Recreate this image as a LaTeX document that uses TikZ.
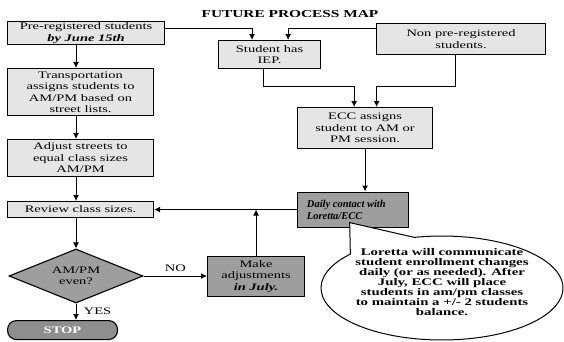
\documentclass[tikz,border=0pt]{standalone}
\usepackage{fontspec}
\setmainfont{Liberation Serif}[FakeStretch=1.45]
\newfontfamily\narrowserif{Liberation Serif}
\usetikzlibrary{shapes.geometric,shapes.callouts,arrows.meta,calc}

\definecolor{lightfill}{gray}{0.90}
\definecolor{darkfill}{gray}{0.62}

\tikzset{
  box/.style={draw, line width=1.1pt, fill=lightfill, align=center, inner sep=1pt,
    anchor=north west, font=\fontsize{10}{11.5}\selectfont},
  darkbox/.style={box, fill=darkfill},
  arr/.style={line width=1pt, -{Latex[length=6pt,width=6pt]}},
  lbl/.style={font=\fontsize{10}{11.5}\selectfont}
}

\begin{document}
\begin{tikzpicture}[x=1pt,y=-1pt]
\useasboundingbox (0,0) rectangle (564,341);

% title
\node[font=\fontsize{10.6}{12}\selectfont\bfseries] (title) at (290,14) {FUTURE PROCESS MAP};

% left column
\node[box, minimum width=157, minimum height=23] (pre) at (7,21)
  {Pre-registered students\\\textbf{\textit{by June 15th}}};
\node[box, minimum width=146, minimum height=47] (trans) at (7,68)
  {Transportation\\assigns students to\\AM/PM based on\\street lists.};
\node[box, minimum width=146, minimum height=37] (adjust) at (7,139)
  {Adjust streets to\\equal class sizes\\AM/PM};
\node[box, minimum width=146, minimum height=16] (review) at (7,201)
  {Review class sizes.};
\node[draw, line width=1.1pt, fill=darkfill, diamond, aspect=2.5, inner sep=0pt,
  minimum width=134, minimum height=54, align=center,
  font=\fontsize{10}{11.5}\selectfont] (even) at (76,276) {AM/PM\\even?};
\node[draw, line width=1.1pt, fill=darkfill!90!black, rounded corners=9pt,
  minimum width=110, minimum height=19, inner sep=0pt, anchor=north west,
  text=white, font=\fontsize{10}{11.5}\selectfont\bfseries] (stop) at (7,320) {STOP};

% right part
\node[box, minimum width=102, minimum height=28] (iep) at (218,40)
  {Student has\\IEP.};
\node[box, minimum width=169, minimum height=31] (non) at (376,23)
  {Non pre-registered\\students.};
\node[box, minimum width=135, minimum height=41] (ecc) at (297,107)
  {ECC assigns\\student to AM or\\PM session.};
\node[darkbox, minimum width=111, minimum height=35, align=left, inner xsep=4pt,
  font=\narrowserif\fontsize{10.5}{12}\selectfont\bfseries\itshape] (daily) at (297,191.5)
  {Daily contact with\\Loretta/ECC\hphantom{aaaaaaa}};
\node[darkbox, minimum width=97, minimum height=40] (make) at (207,256)
  {Make\\adjustments\\\textbf{\textit{in July.}}};

% note balloon
\node[draw, line width=1pt, fill=white, ellipse callout, minimum width=242,
  minimum height=104, callout pointer arc=36,
  callout absolute pointer={($(daily.south west)!0.47!(daily.south east)+(0,-5)$)}]
  (note) at (442,288) {};
\node[align=center, font=\fontsize{10.2}{10.1}\selectfont\bfseries] (notetext) at (442,282)
  {Loretta will communicate\\student enrollment changes\\daily (or as needed). After\\July, ECC will place\\students in am/pm classes\\to maintain a +/- 2 students\\balance.};

% helper coordinates
\coordinate (spine) at (76,0);
\coordinate (bus) at (0,86);

% left column flow
\draw[arr] (pre.south -| spine) -- (trans.north -| spine);
\draw[arr] (trans.south -| spine) -- (adjust.north -| spine);
\draw[arr] (adjust.south -| spine) -- (review.north -| spine);
\draw[arr] (review.south -| spine) -- (even.north);
\draw[arr] (even.south) -- (stop.north -| even.south)
  node[lbl, pos=0.45, right=4pt] (yes) {YES};
\draw[arr] (even.east) -- (even.east -| make.west)
  node[lbl, pos=0.5, above=1pt] (no) {NO};

% into IEP
\draw[arr] ($(pre.north east)!0.3!(pre.south east)$)
  -| ($(iep.north west)!0.33!(iep.north east)$);
\draw[arr] ($(non.north west)!0.16!(non.south west)$)
  -| ($(iep.north west)!0.68!(iep.north east)$);

% into ECC
\coordinate (iepout) at ($(iep.south west)!0.44!(iep.south east)$);
\coordinate (nonout) at ($(non.south west)!0.47!(non.south east)$);
\coordinate (eccinA) at ($(ecc.north west)!0.42!(ecc.north east)$);
\coordinate (eccinB) at ($(ecc.north west)!0.585!(ecc.north east)$);
\draw[arr] (iepout) -- (iepout |- bus) -| (eccinA);
\draw[arr] (nonout) -- (nonout |- bus) -| (eccinB);

% ECC to daily contact
\draw[arr] (ecc.south) -- (ecc.south |- daily.north);

% feedback into review
\draw[arr] (daily.west) -- (review.east);
\draw[arr] (make.north) -- (make.north |- review.east);
\end{tikzpicture}
\end{document}
